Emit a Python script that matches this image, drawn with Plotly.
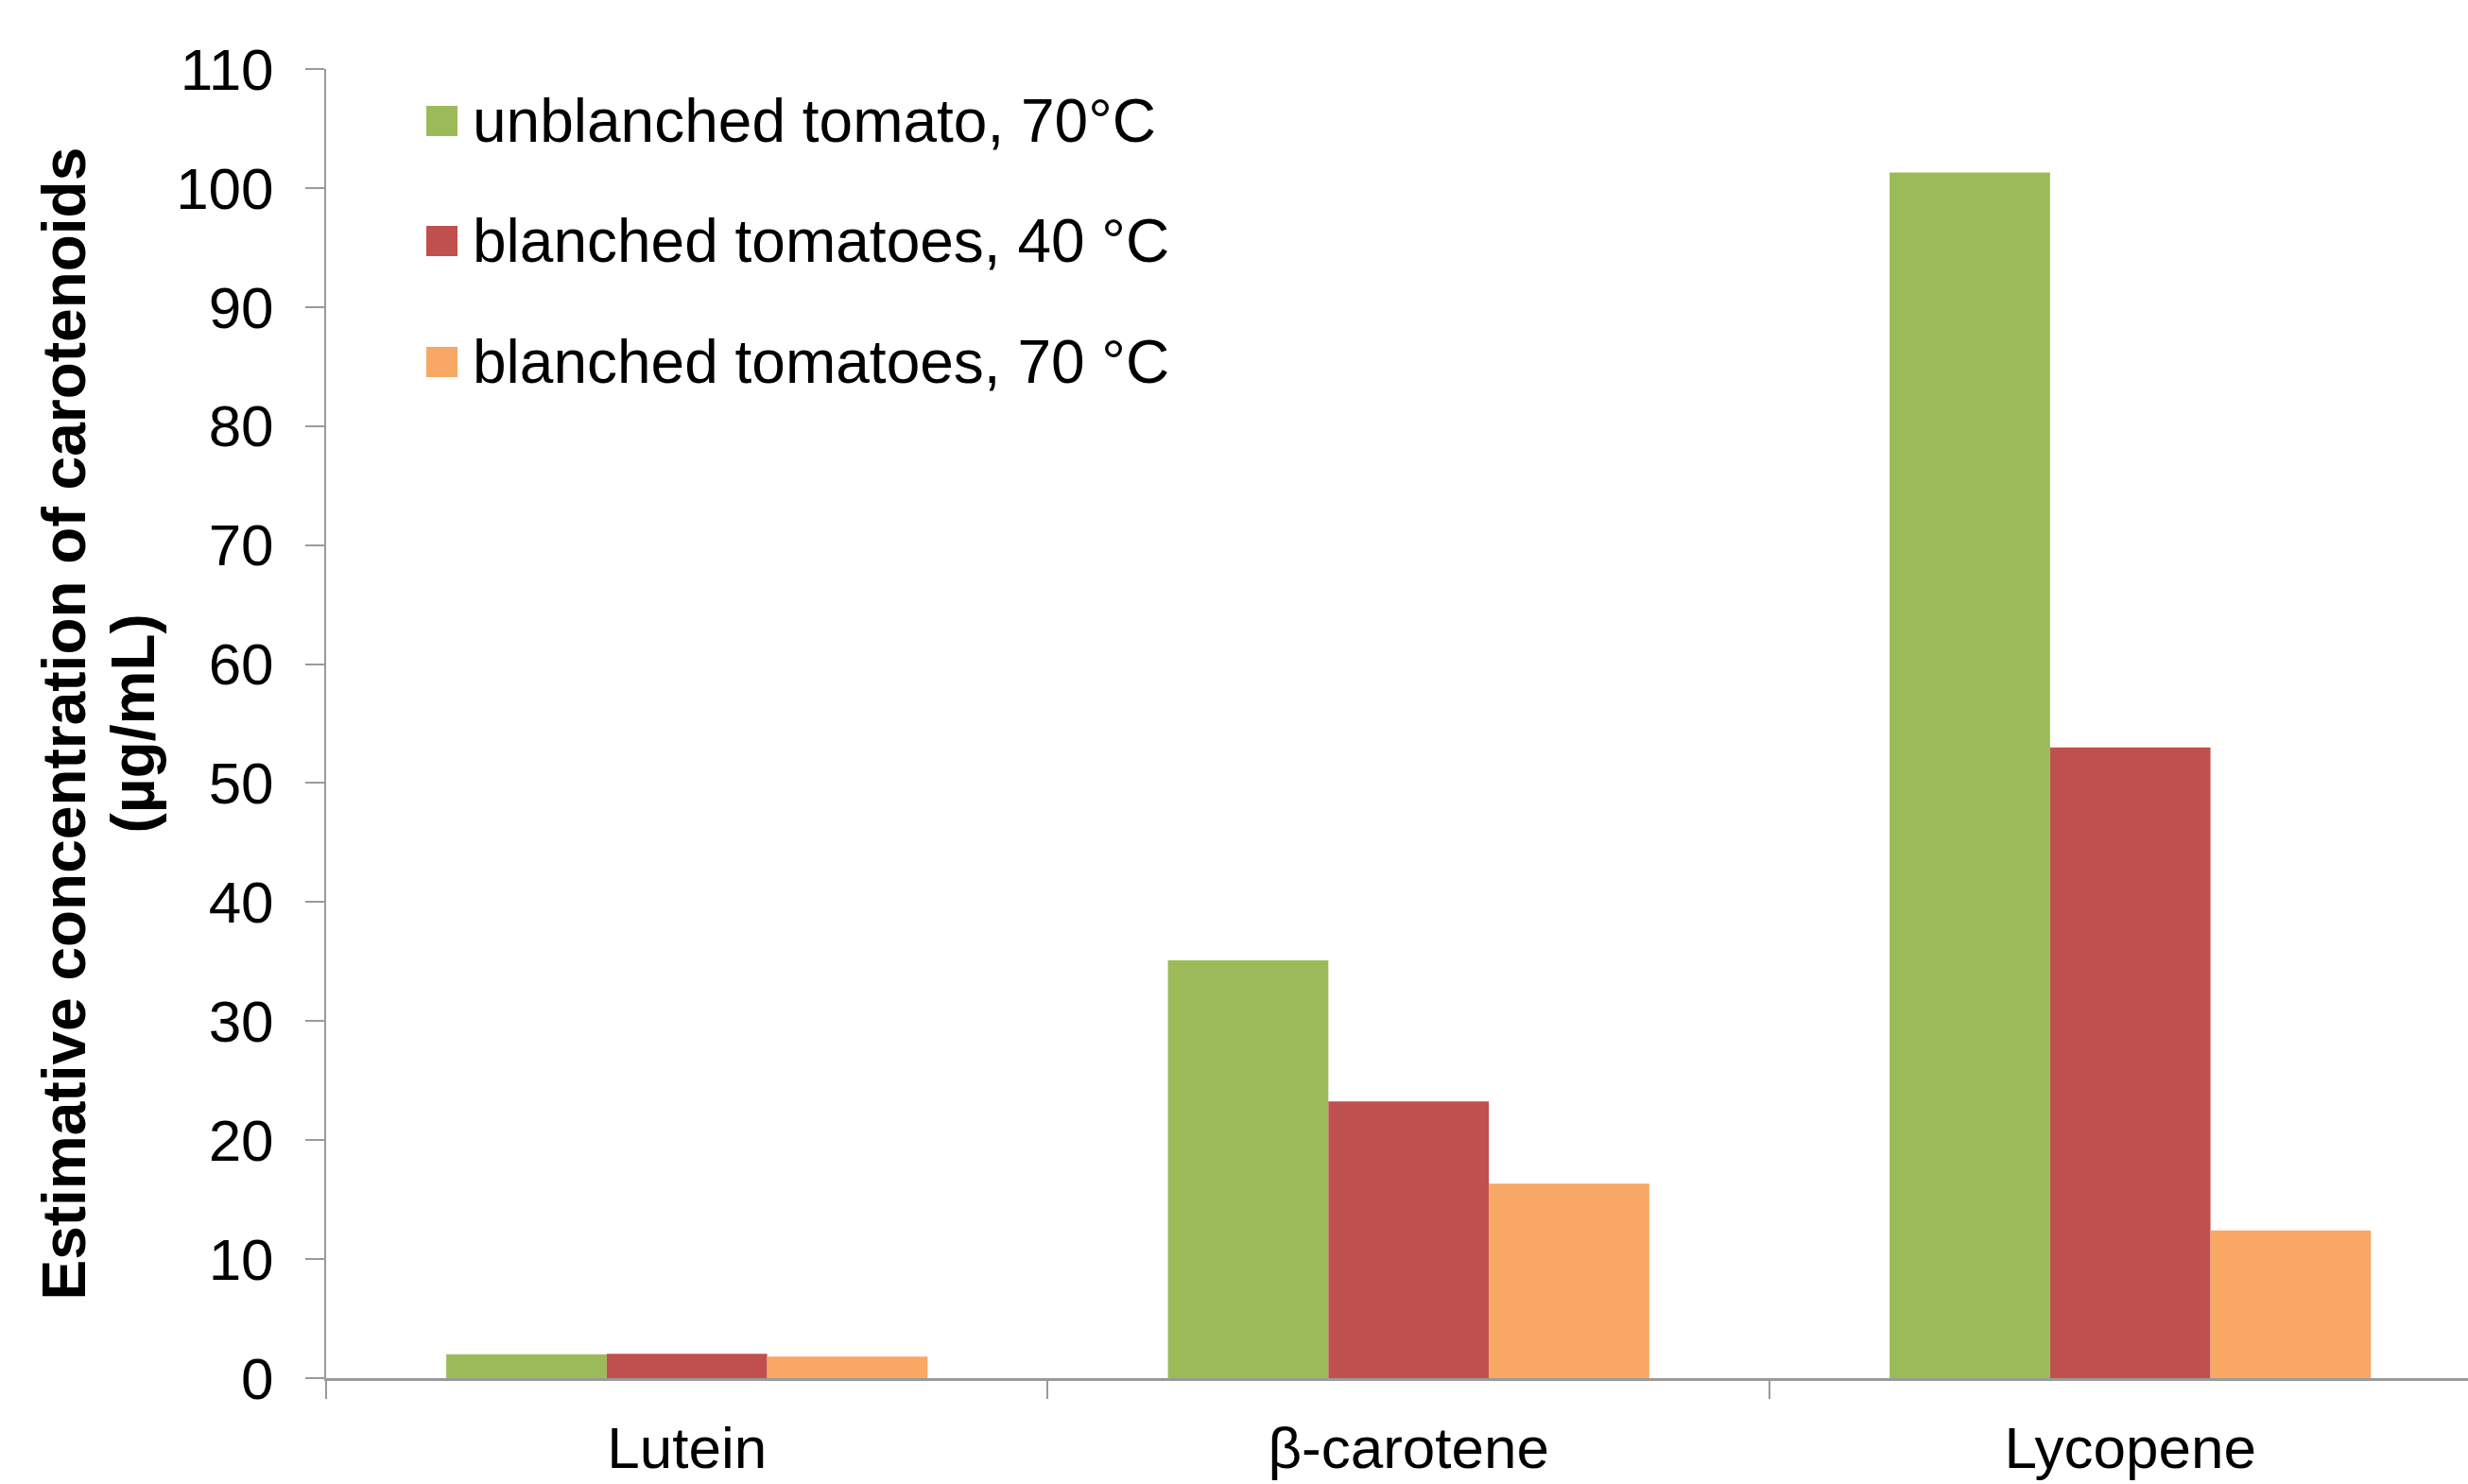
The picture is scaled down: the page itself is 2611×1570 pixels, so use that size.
import plotly.graph_objects as go

# Carotenoid estimates (µg/mL) per pigment and treatment
categories = ["Lutein", "β-carotene", "Lycopene"]
series_names = ["unblanched tomato, 70°C", "blanched tomatoes, 40 °C", "blanched tomatoes, 70 °C"]
unblanched_70 = [2.0, 35.1, 101.3]
blanched_40 = [2.05, 23.25, 53.0]
blanched_70 = [1.8, 16.35, 12.4]
series_values = [unblanched_70, blanched_40, blanched_70]
colors = ["#9BBB59", "#C0504D", "#F8A864"]
y_ticks = list(range(0, 111, 10))
y_title_lines = ["Estimative concentration of carotenoids", "(µg/mL)"]

W, H = 2611, 1570
PLOT_L, PLOT_R, PLOT_T, PLOT_B = 345, 2611, 73, 1458
FONT = "Liberation Sans, Arial, sans-serif"

fig = go.Figure()
for name, vals, col in zip(series_names, series_values, colors):
    fig.add_trace(go.Bar(x=categories, y=vals, name=name, marker=dict(color=col, line=dict(width=0)),
                         showlegend=False))

# Hand-built legend: colour swatches plus labels in the upper-left of the plot
def px_to_paper_x(px):
    return (px - PLOT_L) / (PLOT_R - PLOT_L)

def px_to_paper_y(py):
    return (PLOT_B - py) / (PLOT_B - PLOT_T)

legend_rows_y = [128, 255, 383]
shapes = []
annotations = []
for name, col, ry in zip(series_names, colors, legend_rows_y):
    shapes.append(dict(type="rect", xref="paper", yref="paper",
                       x0=px_to_paper_x(451), x1=px_to_paper_x(484),
                       y0=px_to_paper_y(ry + 16), y1=px_to_paper_y(ry - 16),
                       fillcolor=col, line=dict(width=0)))
    annotations.append(dict(text=name, xref="paper", yref="paper",
                            x=px_to_paper_x(498), y=px_to_paper_y(ry),
                            xanchor="left", yanchor="middle", showarrow=False,
                            font=dict(family=FONT, size=64, color="#000000")))

# Rotated y-axis title, one annotation per line for tighter line spacing
for line, cx in zip(y_title_lines, [67, 140]):
    annotations.append(dict(text="<b>" + line + "</b>",
                            xref="paper", yref="paper", x=0, y=0.5, xshift=-(PLOT_L - cx),
                            xanchor="center", yanchor="middle", textangle=-90, showarrow=False,
                            font=dict(family=FONT, size=64, color="#000000")))

fig.update_layout(
    width=W, height=H,
    margin=dict(l=PLOT_L, r=W - PLOT_R, t=PLOT_T, b=H - PLOT_B),
    paper_bgcolor="white", plot_bgcolor="white",
    barmode="group", bargap=0.333, bargroupgap=0,
    font=dict(family=FONT, size=62, color="#000000"),
    shapes=shapes, annotations=annotations,
    xaxis=dict(type="category", range=[-0.5, 2.468], showgrid=False,
               showline=True, linecolor="#9a9a9a", linewidth=3,
               ticks="outside", tickson="boundaries", ticklen=19, tickcolor="#9a9a9a", tickwidth=2,
               tickfont=dict(family=FONT, size=62, color="#000000"), ticklabelstandoff=18),
    yaxis=dict(range=[0, 110], tickvals=y_ticks, showgrid=False, zeroline=False,
               showline=True, linecolor="#9a9a9a", linewidth=2,
               ticks="outside", ticklen=20, tickcolor="#9a9a9a", tickwidth=2,
               tickfont=dict(family=FONT, size=62, color="#000000"), ticklabelstandoff=21),
)

fig.write_html("out.html")
